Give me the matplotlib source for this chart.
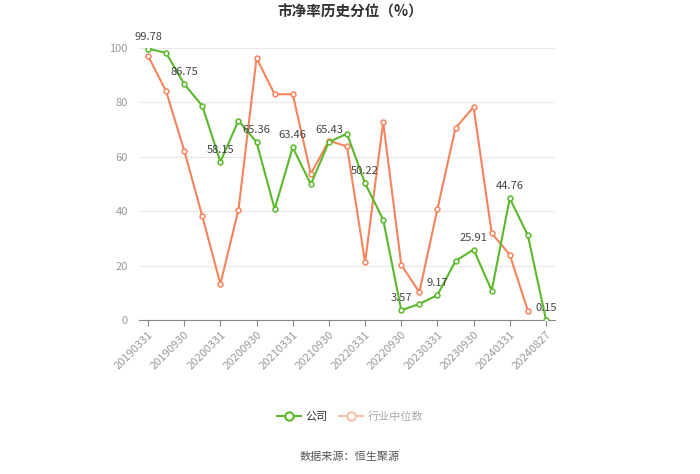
import matplotlib
matplotlib.use("Agg")
import matplotlib.pyplot as plt
from matplotlib.lines import Line2D

plt.rcParams['font.family'] = ['Noto Sans CJK SC', 'DejaVu Sans']

dates = ["20190331", "20190630", "20190930", "20191231", "20200331", "20200630",
         "20200930", "20201231", "20210331", "20210630", "20210930", "20211231",
         "20220331", "20220630", "20220930", "20221231", "20230331", "20230630",
         "20230930", "20231231", "20240331", "20240630", "20240827"]
company = [99.78, 98.2, 86.75, 78.7, 58.15, 73.3, 65.36, 40.8, 63.46, 49.9, 65.43, 68.5,
           50.22, 36.9, 3.57, 5.9, 9.17, 21.7, 25.91, 10.8, 44.76, 31.1, 0.15]
industry = [97.1, 84.1, 62.3, 38.2, 13.2, 40.6, 96.3, 83.0, 83.0, 53.7, 65.9, 63.8,
            21.2, 72.8, 20.3, 10.2, 40.8, 70.6, 78.3, 31.9, 24.0, 3.4]

green = '#5ab82a'
orange = '#f5845c'

fig = plt.figure(figsize=(7, 4.74), dpi=100)
ax = fig.add_axes([139/700, 1-320/474, (555-139)/700, (320-48)/474])

x = list(range(len(dates)))
ax.plot(x[:len(industry)], industry, color=orange, lw=1.5, marker='o', ms=3.5,
        mfc='white', mec=orange, mew=1.1, zorder=3)
ax.plot(x, company, color=green, lw=1.5, marker='o', ms=3.5,
        mfc='white', mec=green, mew=1.1, zorder=4)

for i in range(0, len(dates), 2):
    ax.annotate(f"{company[i]:.2f}", (i, company[i]), xytext=(0, 5),
                textcoords='offset points', ha='center', va='bottom',
                fontsize=8, color='#444444', zorder=5)

ax.set_xlim(-0.5, len(dates) - 0.5)
ax.set_ylim(0, 100)
ax.set_yticks([0, 20, 40, 60, 80, 100])
ax.set_xticks(x[::2])
ax.set_xticklabels(dates[::2], rotation=45, ha='right', rotation_mode='anchor',
                   fontsize=8, color='#999999')
ax.tick_params(axis='y', length=0, labelsize=8, labelcolor='#999999', pad=8)
ax.tick_params(axis='x', length=4, color='#888888', pad=3)
ax.grid(axis='y', color='#e8e8e8', lw=0.8)
ax.set_axisbelow(True)
for s in ['top', 'right', 'left']:
    ax.spines[s].set_visible(False)
ax.spines['bottom'].set_color('#888888')

fig.text(0.5, 1-12/474, "市净率历史分位（%）", ha='center', va='center',
         fontsize=10.5, fontweight='bold', color='#333333')

handles = [Line2D([0], [0], color=green, lw=1.5, marker='o', ms=6, mfc='white', mec=green, mew=1.5),
           Line2D([0], [0], color='#f8c0a8', lw=1.5, marker='o', ms=6, mfc='white', mec='#f8c0a8', mew=1.5)]
leg = fig.legend(handles, ['公司', '行业中位数'], loc='center', bbox_to_anchor=(0.5, 1-417/474),
                 ncol=2, frameon=False, fontsize=8, handlelength=2.2, columnspacing=1.0,
                 handletextpad=0.4)
leg.get_texts()[0].set_color('#333333')
leg.get_texts()[1].set_color('#aaaaaa')

fig.text(0.5, 1-457/474, "数据来源：恒生聚源", ha='center', va='center',
         fontsize=8, color='#555555')

fig.savefig('out.png', dpi=100)
